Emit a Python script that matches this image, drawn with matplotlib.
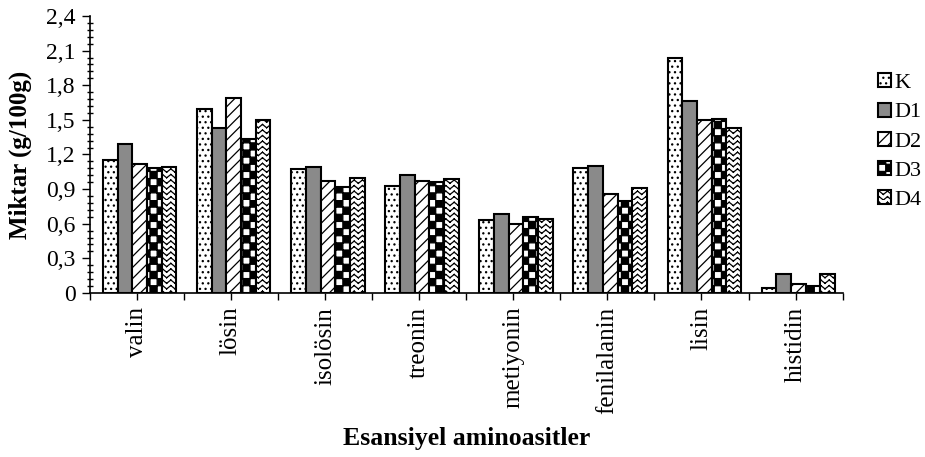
import warnings
import numpy as np
import matplotlib
matplotlib.use('Agg')
import matplotlib.pyplot as plt
from matplotlib import hatch as mhatch
from matplotlib.path import Path
from matplotlib.ticker import MultipleLocator, FuncFormatter, FixedLocator

warnings.filterwarnings('ignore')

# data (g/100g)
amino = ['valin', 'lösin', 'isolösin', 'treonin', 'metiyonin',
         'fenilalanin', 'lisin', 'histidin']
groups = ['K', 'D1', 'D2', 'D3', 'D4']
K = [1.15, 1.59, 1.07, 0.93, 0.63, 1.08, 2.04, 0.04]
D1 = [1.29, 1.43, 1.09, 1.02, 0.68, 1.10, 1.66, 0.16]
D2 = [1.12, 1.69, 0.97, 0.97, 0.60, 0.86, 1.50, 0.08]
D3 = [1.08, 1.33, 0.92, 0.96, 0.66, 0.80, 1.51, 0.06]
D4 = [1.09, 1.50, 1.00, 0.99, 0.64, 0.91, 1.43, 0.16]
series = [K, D1, D2, D3, D4]


# extra hatch patterns: checkerboard ('c') and chevrons ('v')
class CheckerHatch(mhatch.HatchPatternBase):
    def __init__(self, hatch, density):
        self.n = 14 * hatch.count('c')
        self.num_vertices = (self.n * self.n // 2) * 5

    def set_vertices_and_codes(self, vertices, codes):
        d = 1.0 / self.n
        sq = np.array([[0, 0], [d, 0], [d, d], [0, d], [0, 0]])
        sc = [Path.MOVETO, Path.LINETO, Path.LINETO, Path.LINETO, Path.CLOSEPOLY]
        k = 0
        for i in range(self.n):
            for j in range(self.n):
                if (i + j) % 2 == 0:
                    vertices[k:k + 5] = sq + [i * d, j * d]
                    codes[k:k + 5] = sc
                    k += 5


class ChevronHatch(mhatch.HatchPatternBase):
    def __init__(self, hatch, density):
        c = hatch.count('v')
        self.rows = 18 * c
        self.cols = 12 * c
        self.num_vertices = self.rows * self.cols * 4

    def set_vertices_and_codes(self, vertices, codes):
        dy = 1.0 / self.rows
        dx = 1.0 / self.cols
        a = dy * 0.6
        k = 0
        for r in range(self.rows):
            y = r * dy
            for c in range(self.cols):
                x = c * dx
                vertices[k:k + 4] = [[x, y], [x + dx / 2, y + a],
                                     [x + dx / 2, y + a], [x + dx, y]]
                codes[k:k + 4] = [Path.MOVETO, Path.LINETO,
                                  Path.MOVETO, Path.LINETO]
                k += 4


mhatch._hatch_types.extend([CheckerHatch, ChevronHatch])

plt.rcParams['font.family'] = ['Liberation Serif', 'DejaVu Serif']
plt.rcParams['hatch.linewidth'] = 0.9

faces = ['white', '#8a8a8a', 'white', 'white', 'white']
hatches = ['...', None, '///', 'c', 'v']

fig = plt.figure(figsize=(9.25, 4.57), dpi=100)
ax = fig.add_axes([0.097, 0.359, 0.814, 0.606])

x = np.arange(len(amino))
w = 0.156
for j, (name, vals) in enumerate(zip(groups, series)):
    ax.bar(x + (j - 2) * w + 0.03, vals, w, label=name, color=faces[j],
           hatch=hatches[j], edgecolor='black', linewidth=1.5)

ax.set_xlim(-0.5, len(amino) - 0.5)
ax.set_ylim(0, 2.4)

ax.yaxis.set_major_locator(MultipleLocator(0.3))
ax.yaxis.set_minor_locator(MultipleLocator(0.06))
ax.yaxis.set_major_formatter(FuncFormatter(
    lambda v, p: '0' if abs(v) < 1e-9 else f'{v:.1f}'.replace('.', ',')))

ax.set_xticks(x)
ax.set_xticklabels(amino, rotation=90)
ax.xaxis.set_minor_locator(FixedLocator(np.arange(len(amino) + 1) - 0.5))

ax.tick_params(axis='y', which='major', direction='out', length=6,
               width=1, labelsize=17, pad=4)
ax.tick_params(axis='y', which='minor', direction='inout', length=5, width=1)
ax.tick_params(axis='x', which='both', direction='out', length=5, width=1,
               labelsize=18, pad=5)

for s in ['top', 'right']:
    ax.spines[s].set_visible(False)
for s in ['left', 'bottom']:
    ax.spines[s].set_linewidth(1.2)

ax.set_ylabel('Miktar (g/100g)', fontsize=18, fontweight='bold', labelpad=10)
ax.set_xlabel('Esansiyel aminoasitler', fontsize=18.5, fontweight='bold')
ax.xaxis.set_label_coords(0.5, -0.485)

fig.legend(loc='center left', bbox_to_anchor=(0.937, 0.69), frameon=False,
           fontsize=16, handlelength=0.6, handleheight=0.6,
           handletextpad=0.15, labelspacing=0.42, borderpad=0)

fig.savefig('out.png', dpi=100)
